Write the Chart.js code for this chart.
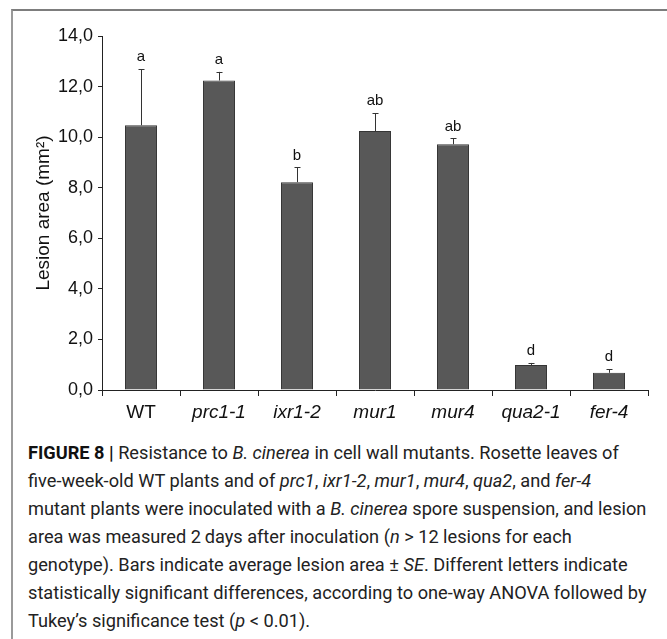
<!DOCTYPE html>
<html>
<head>
<meta charset="utf-8">
<script src="https://cdn.jsdelivr.net/npm/chart.js@4.4.1/dist/chart.umd.min.js"></script>
<style>
  body { margin: 0; background: #fff; width: 667px; height: 639px; overflow: hidden; position: relative; }
  #frame { position: absolute; left: 11px; top: 9px; width: 655px; height: 640px;
           border-top: 2px solid #7d7d7d; border-left: 2px solid #9a9a9a; border-right: 1px solid #e0e0e0; }
  #chartBox { position: absolute; left: 0; top: 0; }
  #caption { position: absolute; left: 28px; top: 439px; font-family: "Roboto", sans-serif;
             font-size: 18.2px; line-height: 28px; color: #222; white-space: nowrap; }
  #caption b { font-weight: bold; color: #111; }
</style>
</head>
<body>
<div id="frame"></div>
<div id="chartBox"><canvas id="lesionChart" width="667" height="432"></canvas></div>
<div id="caption">
<b>FIGURE 8</b> <b>|</b> Resistance to <i>B. cinerea</i> in cell wall mutants. Rosette leaves of<br>
five-week-old WT plants and of <i>prc1</i>, <i>ixr1-2</i>, <i>mur1</i>, <i>mur4</i>, <i>qua2</i>, and <i>fer-4</i><br>
mutant plants were inoculated with a <i>B. cinerea</i> spore suspension, and lesion<br>
area was measured 2&thinsp;days after inoculation (<i>n</i> &gt; 12 lesions for each<br>
genotype). Bars indicate average lesion area ± <i>SE</i>. Different letters indicate<br>
statistically significant differences, according to one-way ANOVA followed by<br>
Tukey’s significance test (<i>p</i> &lt; 0.01).
</div>
<script>
// genotypes and measured lesion areas (mm2)
const genotypes = ["WT", "prc1-1", "ixr1-2", "mur1", "mur4", "qua2-1", "fer-4"];
const lesionArea = [10.47, 12.24, 8.22, 10.24, 9.72, 0.99, 0.68];
const lesionSE = [2.22, 0.34, 0.58, 0.71, 0.23, 0.08, 0.14];
const tukeyLetters = ["a", "a", "b", "ab", "ab", "d", "d"];
const yTicks = [0, 2, 4, 6, 8, 10, 12, 14];

// error bars (upper only) + significance letters
const errorBars = {
  id: "errorBars",
  afterDatasetsDraw(chart) {
    const ctx = chart.ctx;
    const y = chart.scales.y;
    const meta = chart.getDatasetMeta(0);
    ctx.save();
    ctx.strokeStyle = "#333";
    ctx.lineWidth = 1;
    meta.data.forEach((bar, i) => {
      const x = Math.round(bar.x) + 0.5;
      const top = y.getPixelForValue(lesionArea[i] + lesionSE[i]);
      const base = y.getPixelForValue(lesionArea[i]);
      ctx.beginPath();
      ctx.moveTo(x, base);
      ctx.lineTo(x, top);
      ctx.moveTo(x - 3, Math.round(top) + 0.5);
      ctx.lineTo(x + 3, Math.round(top) + 0.5);
      ctx.stroke();
      ctx.fillStyle = "#111";
      ctx.font = "15px 'Liberation Sans', Arial, sans-serif";
      ctx.textAlign = "center";
      ctx.textBaseline = "middle";
      ctx.fillText(tukeyLetters[i], bar.x, top - 12);
    });
    ctx.restore();
  }
};

new Chart("lesionChart", {
  type: "bar",
  data: {
    labels: genotypes,
    datasets: [{
      data: lesionArea,
      backgroundColor: "#585858",
      borderColor: "#353535",
      borderWidth: 1,
      barPercentage: 0.41,
      categoryPercentage: 1
    }]
  },
  options: {
    responsive: false,
    animation: false,
    layout: { padding: { top: 36, right: 19, left: 0, bottom: 0 } },
    plugins: { legend: { display: false }, tooltip: { enabled: false } },
    scales: {
      x: {
        afterFit: (s) => { s.height = 42; },
        border: { color: "#222", width: 1 },
        grid: { offset: true, drawOnChartArea: false, tickLength: 6, color: "#222" },
        ticks: {
          color: "#111",
          padding: 5,
          font: (c) => ({ family: "'Liberation Sans', Arial, sans-serif", size: 19,
                          style: c.index === 0 ? "normal" : "italic" })
        }
      },
      y: {
        min: 0,
        max: 14,
        afterFit: (s) => { s.width = 102; },
        afterBuildTicks: (s) => { s.ticks = yTicks.map(v => ({ value: v })); },
        border: { color: "#222", width: 1 },
        grid: { drawOnChartArea: false, tickLength: 4, color: "#222" },
        ticks: {
          color: "#111",
          padding: 5,
          font: { family: "'Liberation Sans', Arial, sans-serif", size: 18 },
          callback: (v) => v.toFixed(1).replace(".", ",")
        },
        title: {
          display: true,
          text: "Lesion area (mm²)",
          color: "#111",
          padding: { top: 32 },
          font: { family: "'Liberation Sans', Arial, sans-serif", size: 19 }
        }
      }
    }
  },
  plugins: [errorBars]
});
</script>
</body>
</html>
